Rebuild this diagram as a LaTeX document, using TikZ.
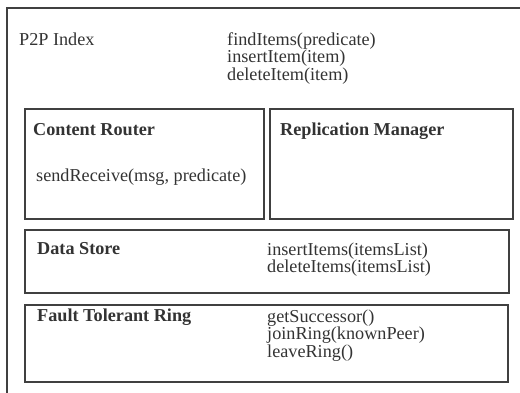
\documentclass[tikz,border=0pt]{standalone}
\usepackage{fontspec}
\setmainfont{Liberation Serif}
\begin{document}
\begin{tikzpicture}[x=1pt,y=-1pt,
  box/.style={draw=black!75, line width=1.1pt, anchor=north west, inner sep=0pt, outer sep=0pt},
  txt/.style={anchor=base west, inner sep=0pt, text=black!80, font=\fontsize{18.2}{17.5}\selectfont},
  hd/.style={txt, font=\fontsize{18.2}{17.5}\selectfont\bfseries}]
\useasboundingbox (0,0) rectangle (520,392);
\coordinate (ob) at (7,400);
\coordinate (oc) at (7,8);
\coordinate (or) at (530,8);
\draw[draw=black!75, line width=1.1pt] (ob) -- (oc) -- (or);
\node[txt] (p2p) at (19,45) {P2P Index};
\node[txt] (p2pm1) at (227,45) {findItems(predicate)};
\node[txt] (p2pm2) at (227,62.5) {insertItem(item)};
\node[txt] (p2pm3) at (227,80) {deleteItem(item)};
\node[box, minimum width=239, minimum height=110] (cr) at (25,109) {};
\node[box, minimum width=243, minimum height=110] (rm) at (270,109) {};
\node[box, minimum width=484, minimum height=63] (ds) at (25,230) {};
\node[box, minimum width=483, minimum height=77] (ftr) at (25,305) {};
\node[hd] (crt) at (33,135) {Content Router};
\node[txt] (crm) at (36,181) {sendReceive(msg, predicate)};
\node[hd] (rmt) at (280,135) {Replication Manager};
\node[hd] (dst) at (37,254) {Data Store};
\node[txt] (dsm1) at (267,255) {insertItems(itemsList)};
\node[txt] (dsm2) at (267,272.5) {deleteItems(itemsList)};
\node[hd] (ftrt) at (37,321) {Fault Tolerant Ring};
\node[txt] (ftrm1) at (267,322) {getSuccessor()};
\node[txt] (ftrm2) at (267,339.5) {joinRing(knownPeer)};
\node[txt] (ftrm3) at (267,357) {leaveRing()};
\end{tikzpicture}
\end{document}
